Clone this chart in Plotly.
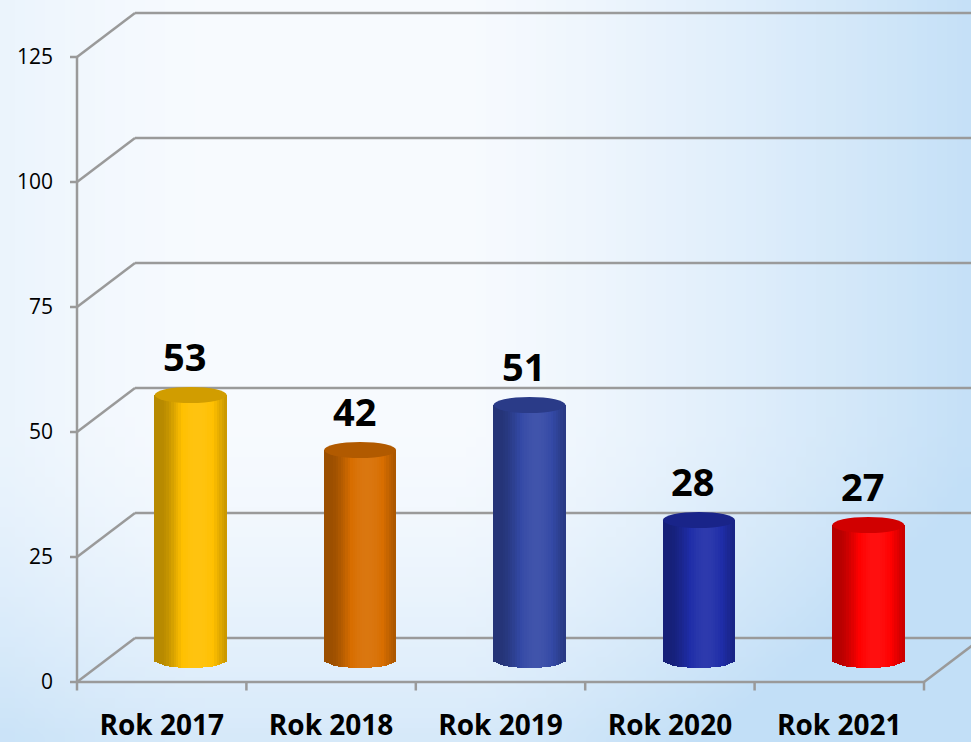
import math
import struct
import zlib
import base64
import plotly.graph_objects as go

# ---------------- data ----------------
categories = ["Rok 2017", "Rok 2018", "Rok 2019", "Rok 2020", "Rok 2021"]
values = [53, 42, 51, 28, 27]
bar_colors = ["#FFC000", "#D86E00", "#3449A6", "#1F2DA8", "#FF0000"]
y_ticks = [0, 25, 50, 75, 100, 125]

# ---------------- geometry (in axis units) ----------------
PX_X = 169.4          # pixels per category
PX_Y = 5.0            # pixels per value unit
DX = 58 / PX_X        # depth offset (x)
DY = 44 / PX_Y        # depth offset (y)
BAR_W = 72 / PX_X
ELL = 8 / PX_Y        # ellipse half height
X_MIN = -7 / PX_X
X_MAX = 901 / PX_X + X_MIN
Y_MIN = -10 / PX_Y
Y_MAX = 682 / PX_Y
GRID = "#9A9A9A"


def hex_rgb(h):
    h = h.lstrip("#")
    return [int(h[i:i + 2], 16) for i in (0, 2, 4)]


def shade(h, f):
    r = []
    for c in hex_rgb(h):
        if f <= 1:
            v = c * f
        else:
            v = c + (255 - c) * (f - 1) * 0.45
        r.append(int(max(0, min(255, v))))
    return "rgb(%d,%d,%d)" % tuple(r)


# ---------------- background gradient image ----------------
def make_bg():
    w, h = 97, 74
    c0 = (250, 252, 255)
    c1 = (194, 223, 247)
    rows = []
    for j in range(h):
        Y = (j + 0.5) / h * 742
        row = []
        for i in range(w):
            X = (i + 0.5) / w * 971
            t = 0.04
            t += 0.9 * max(0.0, (X - 460) / 510) ** 1.25
            t += 0.6 * max(0.0, (Y - 420) / 322) ** 1.5
            t += 0.22 * max(0.0, (220 - X) / 220) ** 1.5
            t = max(0.0, min(1.0, t))
            row += [int(c0[k] + (c1[k] - c0[k]) * t) for k in range(3)]
        rows.append(row)
    raw = b"".join(b"\x00" + bytes(r) for r in rows)

    def chunk(tag, data):
        return (struct.pack(">I", len(data)) + tag + data
                + struct.pack(">I", zlib.crc32(tag + data) & 0xFFFFFFFF))

    png = (b"\x89PNG\r\n\x1a\n"
           + chunk(b"IHDR", struct.pack(">IIBBBBB", w, h, 8, 2, 0, 0, 0))
           + chunk(b"IDAT", zlib.compress(raw, 9))
           + chunk(b"IEND", b""))
    return "data:image/png;base64," + base64.b64encode(png).decode()


fig = go.Figure()

# ---------------- cylinders (strips for shading) ----------------
N = 30
centers = [i + 0.5 + DX / 2 for i in range(len(values))]
base0 = DY / 2
for j in range(N):
    u = -1 + (2 * j + 1) / N
    ang = (u - 0.2) * math.pi / 2
    f = 0.72 + 0.42 * max(0.0, math.cos(ang)) ** 1.6
    bases = [base0 - ELL * math.sqrt(max(0.0, 1 - u * u)) for _ in values]
    heights = [v + base0 - b for v, b in zip(values, bases)]
    fig.add_trace(go.Bar(
        x=[c + u * BAR_W / 2 for c in centers],
        y=heights,
        base=bases,
        width=BAR_W / N * 1.3,
        marker=dict(color=[shade(c, f) for c in bar_colors], line=dict(width=0)),
        showlegend=False,
        hoverinfo="skip",
    ))

shapes = []
# left wall diagonals + back wall lines
for v in y_ticks:
    shapes.append(dict(type="line", xref="x", yref="y", x0=0, y0=v, x1=DX, y1=v + DY,
                       line=dict(color=GRID, width=2.5), layer="below"))
    shapes.append(dict(type="line", xref="x", yref="y", x0=DX, y0=v + DY, x1=5 + DX, y1=v + DY,
                       line=dict(color=GRID, width=2.5), layer="below"))
    # y tick marks
    shapes.append(dict(type="line", xref="x", yref="y", x0=X_MIN, y0=v, x1=0, y1=v,
                       line=dict(color=GRID, width=2.5), layer="below"))
# floor front edge and right edge
shapes.append(dict(type="line", xref="x", yref="y", x0=0, y0=0, x1=5, y1=0,
                   line=dict(color=GRID, width=2.5), layer="below"))
shapes.append(dict(type="line", xref="x", yref="y", x0=5, y0=0, x1=5 + DX, y1=DY,
                   line=dict(color=GRID, width=2.5), layer="below"))
# front vertical axis
shapes.append(dict(type="line", xref="x", yref="y", x0=0, y0=0, x1=0, y1=y_ticks[-1],
                   line=dict(color=GRID, width=2.5), layer="below"))
# category tick marks
for k in range(len(categories) + 1):
    shapes.append(dict(type="line", xref="x", yref="y", x0=k, y0=0, x1=k, y1=Y_MIN * 0.85,
                       line=dict(color=GRID, width=2.5), layer="below"))
# cylinder tops
for c, v, col in zip(centers, values, bar_colors):
    top = v + base0
    shapes.append(dict(type="circle", xref="x", yref="y",
                       x0=c - BAR_W / 2, x1=c + BAR_W / 2, y0=top - ELL, y1=top + ELL,
                       fillcolor=shade(col, 0.82), line=dict(width=0), layer="above"))

annotations = []
for c, v in zip(centers, values):
    annotations.append(dict(x=c, y=v + base0 + ELL, xref="x", yref="y", text=str(v),
                            showarrow=False, yanchor="bottom", xanchor="center",
                            yshift=3, xshift=-6,
                            font=dict(family="Open Sans", size=38, color="black", weight="bold")))

fig.update_layout(
    width=971, height=742,
    margin=dict(l=70, r=0, t=0, b=50, autoexpand=False),
    paper_bgcolor="white",
    plot_bgcolor="rgba(0,0,0,0)",
    barmode="overlay",
    bargap=0,
    showlegend=False,
    shapes=shapes,
    annotations=annotations,
    images=[dict(source=make_bg(), xref="paper", yref="paper",
                 x=-70 / 901, y=1, sizex=971 / 901, sizey=742 / 692,
                 xanchor="left", yanchor="top", sizing="stretch", layer="below")],
    xaxis=dict(range=[X_MIN, X_MAX], showgrid=False, zeroline=False, showline=False,
               automargin=False,
               tickmode="array", tickvals=[i + 0.5 for i in range(len(categories))],
               ticktext=categories, ticks="", ticklabelstandoff=14,
               tickfont=dict(family="Open Sans", size=28, color="black", weight="bold")),
    yaxis=dict(range=[Y_MIN, Y_MAX], showgrid=False, zeroline=False, showline=False,
               automargin=False,
               tickmode="array", tickvals=y_ticks, ticktext=[str(t) for t in y_ticks],
               ticks="", ticklabelstandoff=16,
               tickfont=dict(family="Open Sans", size=21, color="black")),
)

fig.write_html("out.html",
               config={"displayModeBar": False, "staticPlot": True},
               post_script="document.body.style.margin='0';document.body.style.overflow='hidden';")
